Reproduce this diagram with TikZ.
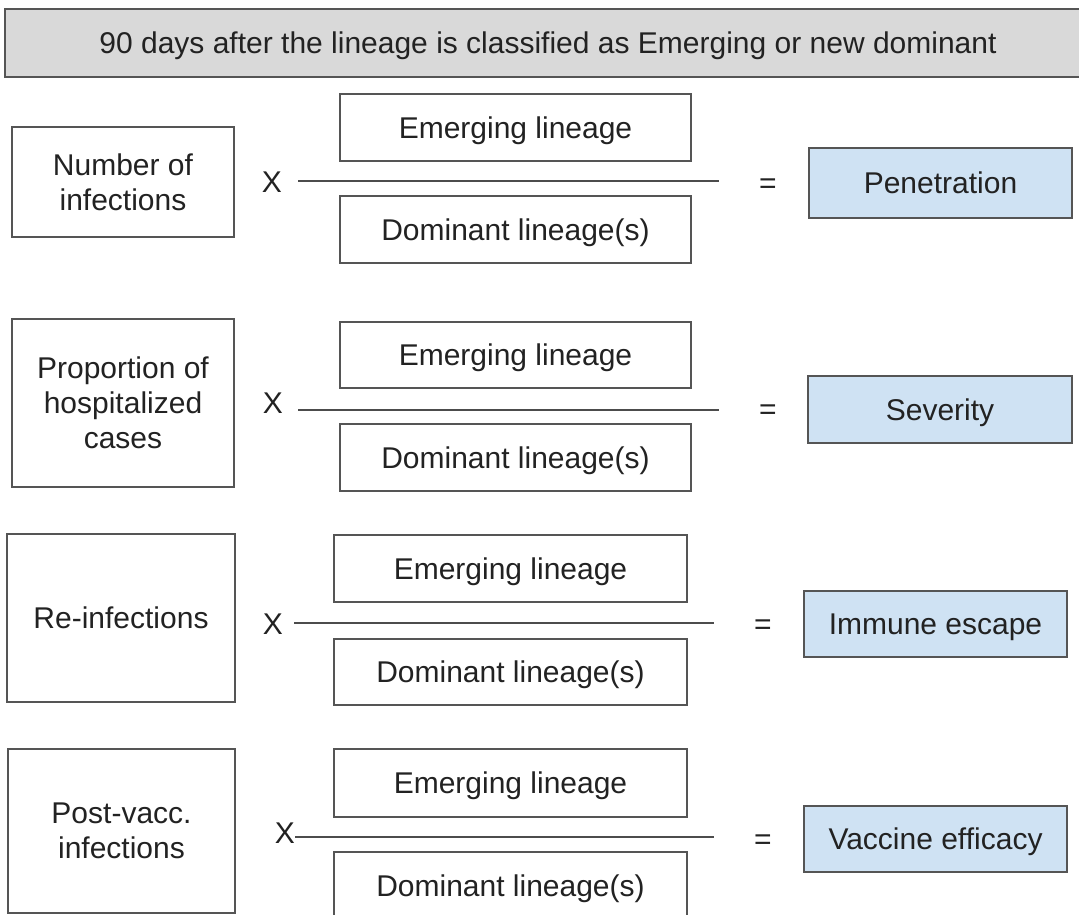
\documentclass[tikz,border=0pt]{standalone}
\usepackage{fontspec}
\setmainfont{Liberation Sans}
\definecolor{edge}{HTML}{555555}
\definecolor{hdrfill}{HTML}{D9D9D9}
\definecolor{bluefill}{HTML}{CFE2F3}
\definecolor{txt}{HTML}{222222}
\newcommand{\bx}[7]{\node[#6, minimum width={#4-#2}, minimum height={#5-#3}] (#1) at ({(#2+#4)/2},{(#3+#5)/2}) {#7};}
\begin{document}
\begin{tikzpicture}[x=1pt,y=-1pt,
  every node/.style={text=txt, font=\fontsize{30}{35}\selectfont, inner sep=0pt, align=center},
  oneline/.style={text height=21.6pt, text depth=0pt},
  plainbox/.style={draw=edge, line width=1.6pt, fill=white, rectangle},
  hdrbox/.style={draw=edge, line width=1.6pt, fill=hdrfill, rectangle},
  resbox/.style={draw=edge, line width=1.6pt, fill=bluefill, rectangle, oneline},
  fracline/.style={draw=edge!90!black, line width=1.6pt},
  optext/.style={text=txt, oneline}]
\useasboundingbox (0,0) rectangle (1079,915);
\fill[white] (0,0) rectangle (1079,915);
% header
\bx{hdr}{5}{9}{1092}{77}{hdrbox}{}
\node[oneline] (hdrtext) at (548,43) {90 days after the lineage is classified as Emerging or new dominant};
% row 1
\bx{q1}{12}{127}{234}{237}{plainbox}{Number of\\infections}
\bx{e1}{340}{94}{691}{161}{plainbox,oneline}{Emerging lineage}
\bx{d1}{340}{196}{691}{263}{plainbox,oneline}{Dominant lineage(s)}
\bx{r1}{809}{148}{1072}{218}{resbox}{Penetration}
\node[optext] (x1) at (272,182) {X};
\node[optext] (eq1) at (768,183) {=};
\coordinate (a1) at (298,181); \coordinate (b1) at (719,181);
\draw[fracline] (a1) -- (b1);
% row 2
\bx{q2}{12}{319}{234}{487}{plainbox}{Proportion of\\hospitalized\\cases}
\bx{e2}{340}{322}{691}{388}{plainbox,oneline}{Emerging lineage}
\bx{d2}{340}{424}{691}{491}{plainbox,oneline}{Dominant lineage(s)}
\bx{r2}{808}{376}{1072}{443}{resbox}{Severity}
\node[optext] (x2) at (273,403) {X};
\node[optext] (eq2) at (768,409) {=};
\coordinate (a2) at (298,410); \coordinate (b2) at (719,410);
\draw[fracline] (a2) -- (b2);
% row 3
\bx{q3}{7}{534}{235}{702}{plainbox,oneline}{Re-infections}
\bx{e3}{334}{535}{687}{602}{plainbox,oneline}{Emerging lineage}
\bx{d3}{334}{639}{687}{705}{plainbox,oneline}{Dominant lineage(s)}
\bx{r3}{804}{591}{1067}{657}{resbox}{Immune escape}
\node[optext] (x3) at (273,624) {X};
\node[optext] (eq3) at (763,624) {=};
\coordinate (a3) at (294,623); \coordinate (b3) at (714,623);
\draw[fracline] (a3) -- (b3);
% row 4
\bx{q4}{8}{749}{235}{913}{plainbox}{Post-vacc.\\infections}
\bx{e4}{334}{749}{687}{817}{plainbox,oneline}{Emerging lineage}
\bx{d4}{334}{852}{687}{919}{plainbox,oneline}{Dominant lineage(s)}
\bx{r4}{804}{806}{1067}{872}{resbox}{Vaccine efficacy}
\node[optext] (x4) at (285,833) {X};
\node[optext] (eq4) at (763,839) {=};
\coordinate (b4) at (714,837);
\draw[fracline] (x4.east |- b4) -- (b4);
\end{tikzpicture}
\end{document}
